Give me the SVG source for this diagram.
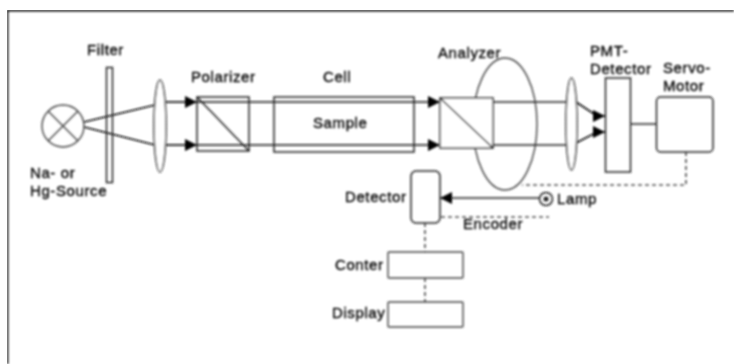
<svg xmlns="http://www.w3.org/2000/svg" width="734" height="364" viewBox="0 0 734 364">
<style>
text{font-family:"Liberation Sans",Arial,sans-serif;font-size:15px;letter-spacing:.6px;fill:#000;stroke:#000;stroke-width:.35}
.s{fill:none;stroke:#222;stroke-width:1.5}
.g{fill:none;stroke:#444;stroke-width:1.4}
.w{fill:#fff;stroke:#222;stroke-width:1.5}
.b{fill:none;stroke:#111;stroke-width:1.7}
.d{fill:none;stroke:#555;stroke-width:1.7;stroke-dasharray:4 3}
</style>
<defs>
<marker id="a" markerUnits="userSpaceOnUse" markerWidth="12" markerHeight="12" refX="12" refY="6" orient="auto"><path d="M0 0L12 6L0 12z" fill="#000"/></marker>
<filter id="soft" x="0" y="0" width="100%" height="100%"><feGaussianBlur stdDeviation="0.8"/></filter>
</defs>
<rect width="734" height="364" fill="#fff"/>
<g filter="url(#soft)">
<path d="M7.500 364V10.500H734" fill="none" stroke="#000" stroke-width="1.8"/>
<g id="analyzer-ring"><ellipse class="g" cx="505" cy="124" rx="32" ry="66"/></g>
<g id="connectors">
<path class="b" d="M84 122L155 105M84 127L155 145"/>
<path class="b" d="M166 102H197" marker-end="url(#a)"/>
<path class="b" d="M166 145H197" marker-end="url(#a)"/>
<path class="b" d="M197 102H440" marker-end="url(#a)"/>
<path class="b" d="M197 145H440" marker-end="url(#a)"/>
<path class="s" d="M493 102H566M493 145H566"/>
<path class="b" d="M576 102L597 116H605" marker-end="url(#a)"/>
<path class="b" d="M576 143L597 132H605" marker-end="url(#a)"/>
<path class="s" d="M631 124H656"/>
<path class="d" d="M686 152V185H522"/>
<path class="s" d="M540 198H440" marker-end="url(#a)"/>
<path class="d" d="M441 217H549"/>
<path class="d" d="M425 223V252"/>
<path class="d" d="M425 278V302"/>
</g>
<g id="source"><circle class="g" cx="63" cy="126" r="21"/><path class="g" d="M48 111L78 141M78 111L48 141"/><text x="30" y="178">Na- or</text><text x="30" y="196">Hg-Source</text></g>
<g id="filter"><rect class="s" x="106.500" y="67.500" width="6" height="115"/><text x="87" y="55">Filter</text></g>
<g id="lens1"><ellipse class="w" cx="160" cy="126" rx="6" ry="46"/></g>
<g id="polarizer"><rect class="s" x="197" y="97" width="52" height="54"/><path class="s" d="M197 97L249 151"/><text x="191" y="82">Polarizer</text></g>
<g id="cell"><rect class="s" x="274" y="97" width="140" height="55"/><text x="323" y="82">Cell</text><text x="313" y="128">Sample</text></g>
<g id="analyzer"><rect class="w" x="440" y="98" width="53" height="50"/><path class="s" d="M440 98L493 148"/><text x="438" y="58">Analyzer</text></g>
<g id="lens2"><ellipse class="w" cx="571.500" cy="124" rx="5.500" ry="46"/></g>
<g id="pmt"><rect class="s" x="605.500" y="78" width="25" height="94"/><text x="590" y="56">PMT-</text><text x="590" y="74">Detector</text></g>
<g id="servo"><rect class="s" x="656.500" y="97" width="56.500" height="55" rx="4"/><text x="663" y="73">Servo-</text><text x="663" y="91">Motor</text></g>
<g id="lamp"><circle class="s" cx="546" cy="199" r="6.500"/><circle cx="546" cy="199" r="2.500" fill="#222"/><text x="557" y="204">Lamp</text></g>
<g id="detector"><rect class="s" x="411" y="171" width="29" height="52" rx="5"/><text x="345" y="202">Detector</text></g>
<g id="encoder"><text x="463" y="229">Encoder</text></g>
<g id="counter"><rect class="g" x="388" y="252" width="75" height="26" rx="1"/><text x="335" y="270">Conter</text></g>
<g id="display"><rect class="g" x="388" y="302" width="75" height="25" rx="1"/><text x="332" y="318">Display</text></g>
</g>
</svg>
